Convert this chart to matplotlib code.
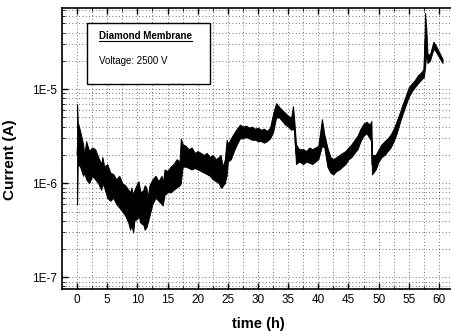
import numpy as np
import matplotlib
matplotlib.use("Agg")
import matplotlib.pyplot as plt
from matplotlib.ticker import MultipleLocator, LogLocator, FixedLocator, FuncFormatter, NullFormatter

plt.rcParams['font.family'] = ['Liberation Sans', 'DejaVu Sans']

# ---------------------------
# DATA: time in h, current envelope in uA
# ---------------------------
time_h = [0.0, 0.1, 0.5, 1.0, 1.2, 1.5, 2.0, 2.5, 3.0, 3.5, 4.0, 4.2, 4.5, 5.0, 5.5, 6.0, 6.5,
          7.0, 7.5, 8.0, 8.5, 8.8, 9.0, 9.3, 9.5, 10.0, 10.2, 10.5, 11.0, 11.2, 11.5, 11.7, 12.0, 12.5,
          13.0, 13.5, 14.0, 14.2, 14.5, 15.0, 15.5, 16.0, 16.5, 17.0, 17.2, 17.5, 18.0, 18.5,
          19.0, 19.5, 20.0, 20.5, 21.0, 21.5, 22.0, 22.5, 23.0, 23.5, 23.8, 24.0, 24.2, 24.5, 24.8,
          25.0, 25.5, 26.0, 26.5, 27.0, 27.5, 28.0, 28.5, 29.0, 29.5, 30.0, 30.5, 31.0,
          31.5, 32.0, 32.5, 33.0, 33.5, 34.0, 34.5, 35.0, 35.5, 35.8, 36.0, 36.3, 36.8,
          37.5, 38.0, 38.5, 39.0, 39.5, 40.0, 40.6, 41.0, 41.5, 42.0, 42.5, 43.0, 43.5,
          44.0, 44.5, 45.0, 45.5, 46.0, 46.5, 47.0, 47.5, 48.0, 48.5, 48.8, 48.9, 49.5,
          50.0, 50.5, 51.0, 51.5, 52.0, 52.5, 53.0, 53.5, 54.0, 54.5, 55.0, 55.5, 56.0,
          56.5, 57.0, 57.5, 57.7, 57.9, 58.1, 58.5, 59.1, 59.5, 60.0, 60.6]

current_hi = [6.9, 4.5, 3.6, 2.6, 2.0, 2.8, 2.2, 2.4, 2.3, 1.9, 1.6, 1.9, 1.5, 1.6, 1.3, 1.25, 1.1,
              1.2, 1.0, 0.95, 0.85, 0.8, 0.9, 0.75, 0.85, 1.0, 1.05, 0.8, 0.85, 0.95, 0.9, 0.7, 0.95, 1.1,
              1.2, 1.05, 1.2, 1.0, 1.4, 1.35, 1.5, 1.6, 1.8, 1.7, 3.0, 2.6, 2.5, 2.3,
              2.4, 2.1, 2.2, 2.1, 2.0, 2.1, 1.9, 2.0, 1.8, 1.9, 2.0, 1.7, 1.5, 1.8, 2.9,
              2.6, 3.0, 3.4, 3.8, 4.2, 4.0, 4.1, 3.9, 4.0, 3.8, 3.9, 3.7, 3.8,
              3.6, 3.9, 5.5, 7.1, 6.5, 6.0, 5.6, 5.2, 5.0, 6.6, 4.8, 2.6, 2.3,
              2.3, 2.2, 2.4, 2.3, 2.4, 2.5, 4.8, 3.3, 2.4, 1.9, 1.8, 1.9, 2.0,
              2.1, 2.2, 2.4, 2.6, 2.9, 3.2, 3.8, 4.3, 4.5, 4.2, 4.6, 2.0, 2.0,
              2.3, 2.6, 2.8, 3.0, 3.3, 3.8, 4.6, 5.6, 7.0, 8.5, 10.5, 11.5, 12.5,
              14.0, 15.0, 16.5, 65.0, 45.0, 24.0, 23.0, 32.0, 29.0, 25.0, 21.0]

current_lo = [0.6, 1.6, 1.5, 1.2, 1.3, 1.1, 1.0, 1.2, 1.1, 1.0, 0.85, 1.0, 0.9, 0.7, 0.65, 0.7, 0.6,
              0.55, 0.5, 0.45, 0.38, 0.32, 0.36, 0.3, 0.4, 0.42, 0.45, 0.38, 0.36, 0.32, 0.34, 0.38, 0.45, 0.6,
              0.7, 0.65, 0.6, 0.58, 0.75, 0.8, 0.8, 0.85, 0.9, 0.95, 1.0, 1.5, 1.5, 1.45,
              1.4, 1.45, 1.4, 1.35, 1.3, 1.25, 1.2, 1.1, 1.05, 1.0, 0.9, 0.9, 0.95, 1.0, 1.2,
              1.7, 1.8, 2.2, 2.6, 3.0, 3.0, 3.1, 3.0, 2.9, 2.9, 2.8, 2.8, 2.7,
              2.8, 3.0, 3.5, 5.0, 5.0, 4.6, 4.2, 4.0, 3.7, 3.8, 3.6, 1.6, 1.7,
              1.6, 1.7, 1.65, 1.6, 1.7, 1.8, 2.5, 2.4, 1.5, 1.3, 1.24, 1.35, 1.4,
              1.5, 1.6, 1.8, 1.9, 2.1, 2.3, 2.8, 3.2, 3.4, 3.0, 2.8, 1.24, 1.4,
              1.7, 1.9, 2.0, 2.2, 2.4, 2.8, 3.4, 4.4, 5.5, 6.8, 8.3, 9.5, 10.5,
              11.5, 12.5, 13.5, 17.0, 25.0, 19.0, 20.0, 27.0, 25.0, 22.0, 19.0]

y_ticks = [1e-7, 1e-6, 1e-5]
y_tick_labels = ["1E-7", "1E-6", "1E-5"]

t = np.array(time_h)
hi = np.array(current_hi) * 1e-6
lo = np.array(current_lo) * 1e-6

# ---------------------------
# PLOT
# ---------------------------
fig = plt.figure(figsize=(4.52, 3.31), dpi=100)
ax = fig.add_axes([62 / 452, 1 - 289 / 331, 392 / 452, 281 / 331])

ax.fill_between(t, lo, hi, color="black", linewidth=0.7, edgecolor="black")
ax.plot(t, np.sqrt(lo * hi), color="black", linewidth=0.8)

ax.set_yscale("log")
ax.set_xlim(-2.5, 62.5)
ax.set_ylim(7.5e-8, 7.3e-5)

ax.xaxis.set_major_locator(MultipleLocator(5))
ax.xaxis.set_minor_locator(MultipleLocator(2.5))
ax.yaxis.set_major_locator(FixedLocator(y_ticks))
ax.yaxis.set_major_formatter(FuncFormatter(lambda v, p: y_tick_labels[y_ticks.index(v)] if v in y_ticks else ""))
ax.yaxis.set_minor_locator(LogLocator(base=10, subs=np.arange(2, 10)))
ax.yaxis.set_minor_formatter(NullFormatter())

ax.grid(which="both", color="black", linestyle=(0, (1, 3)), linewidth=0.6, alpha=0.75)
ax.tick_params(which="both", direction="in", top=True, right=False, labelsize=8.5)
ax.tick_params(which="major", length=4, width=1)
ax.tick_params(which="minor", length=2)
for s in ax.spines.values():
    s.set_linewidth(1.2)

ax.set_xlabel("time (h)", fontsize=10.5, fontweight="bold", labelpad=8)
ax.set_ylabel("Current (A)", fontsize=11, fontweight="bold")
ax.yaxis.set_label_coords(-0.115, 0.46)

# legend box
box = plt.Rectangle((87 / 452, 1 - 84 / 331), 123 / 452, 61 / 331, transform=fig.transFigure,
                    facecolor="white", edgecolor="black", linewidth=1.0, zorder=5)
fig.patches.append(box)
fig.text(99 / 452, 1 - 36 / 331, "Diamond Membrane", fontsize=7, fontweight="bold",
         va="center", ha="left", zorder=6)
fig.add_artist(plt.Line2D([99 / 452, 192 / 452], [1 - 41 / 331, 1 - 41 / 331],
                          color="black", linewidth=0.8, zorder=6))
fig.text(99 / 452, 1 - 61 / 331, "Voltage: 2500 V", fontsize=7, va="center", ha="left", zorder=6)

fig.savefig("out.png", dpi=100)
